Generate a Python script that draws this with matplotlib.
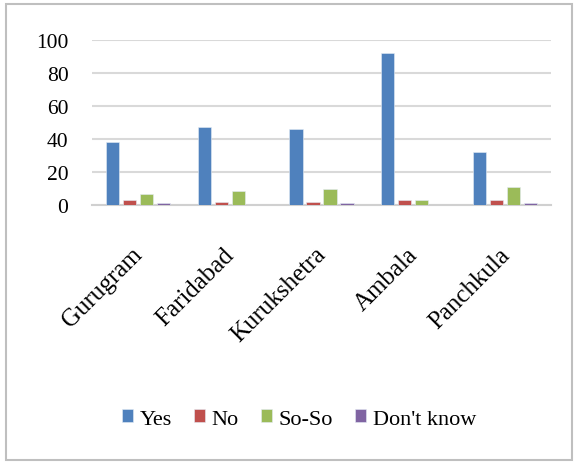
import matplotlib.pyplot as plt
from matplotlib.patches import Rectangle
from matplotlib.transforms import ScaledTranslation
import numpy as np

districts = ["Gurugram", "Faridabad", "Kurukshetra", "Ambala", "Panchkula"]
yes = [38, 47, 46, 92, 32]
no = [3, 2, 2, 3, 3]
so_so = [6.5, 8.5, 10, 3, 11]
dont_know = [1.5, 0, 1.5, 0, 1.5]

series = ["Yes", "No", "So-So", "Don't know"]
colors = ["#4F81BD", "#C0504D", "#9BBB59", "#8064A2"]

plt.rcParams['font.family'] = ['Liberation Serif', 'DejaVu Serif']

fig = plt.figure(figsize=(5.74, 4.64), dpi=100)
ax = fig.add_axes([92/574, 1-206/464, (551-92)/574, (206-41)/464])

x = np.arange(len(districts))
width = 0.145
step = 0.185
for k, (vals, name, c) in enumerate(zip([yes, no, so_so, dont_know], series, colors)):
	off = (k - 1.5) * step
	ax.bar(x + off, vals, width, color=c, edgecolor="#e4ecf5", linewidth=0.4, label=name, zorder=3)

ax.set_xlim(-0.5, len(districts) - 0.5)
ax.set_ylim(0, 100)
ax.set_yticks(range(0, 101, 20))
ax.yaxis.grid(True, color="#d9d9d9", linewidth=1.5, zorder=0)
ax.tick_params(axis='y', length=0, pad=17, labelsize=15.5)
ax.set_xticks([])
for s in ["top", "right", "left"]:
	ax.spines[s].set_visible(False)
ax.spines["bottom"].set_color("#d0d0d0")
ax.spines["bottom"].set_linewidth(1.5)

# rotated district names under each group
offset = ScaledTranslation(9/100, -38/100, fig.dpi_scale_trans)
for i, name in enumerate(districts):
	ax.text(i, 0, name, transform=ax.get_xaxis_transform() + offset,
		rotation=45, ha='right', va='top', fontsize=18)

fig.legend(loc='center', bbox_to_anchor=(299/574, 1-420/464), ncol=4, frameon=False,
	fontsize=16, handlelength=0.5, handleheight=0.5, handletextpad=0.3, columnspacing=1.0)

fig.patches.append(Rectangle((6/574, 3/464), 566/574, 456/464, transform=fig.transFigure,
	fill=False, edgecolor="#bfbfbf", linewidth=1.5))

fig.savefig("out.png", dpi=100)
